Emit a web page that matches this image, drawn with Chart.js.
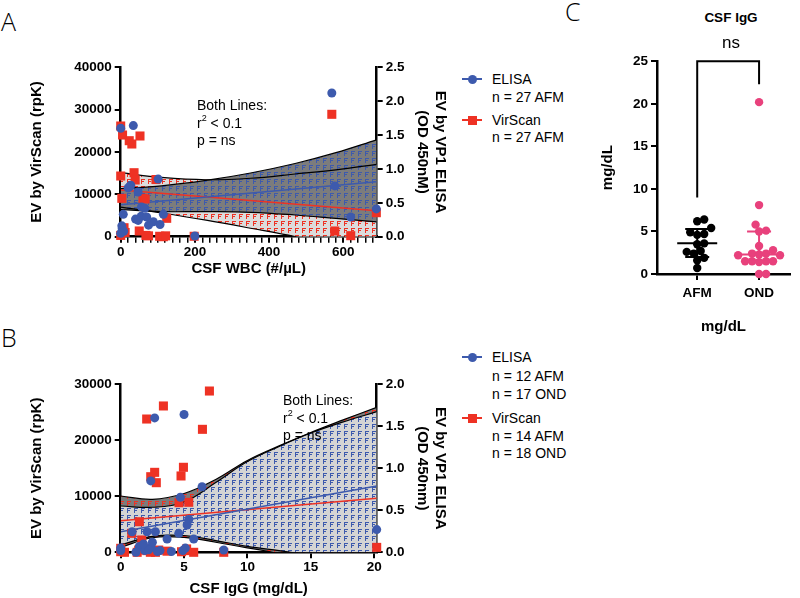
<!DOCTYPE html>
<html>
<head>
<meta charset="utf-8">
<script src="https://cdn.jsdelivr.net/npm/chart.js@4.4.1/dist/chart.umd.min.js"></script>
<style>
body { margin: 0; background: #fff; }
#page { position: relative; width: 800px; height: 598px; overflow: hidden; background: #fff;
        font-family: 'Liberation Sans', Arial, sans-serif; color: #000; }
.box { position: absolute; }
.t { position: absolute; font-size: 14px; line-height: 18px; white-space: nowrap; }
.t sup { font-size: 9px; line-height: 0; position: relative; top: -1px; }
.panel { position: absolute; font-family: 'Open Sans', 'Noto Sans', sans-serif; font-size: 25px; font-weight: 300; }
.ln { position: absolute; width: 20px; height: 2px; }
.dot { position: absolute; width: 9px; height: 9px; border-radius: 50%; }
.sq { position: absolute; width: 9px; height: 9px; }
</style>
</head>
<body>
<div id="page">
  <div class="panel" style="left:1px;top:4px">A</div>
  <div class="panel" style="left:1px;top:320px">B</div>
  <div class="panel" style="left:565px;top:-6px">C</div>

  <div class="box" style="left:0;top:45px;width:460px;height:240px"><canvas id="chartA"></canvas></div>
  <div class="box" style="left:0;top:360px;width:460px;height:238px"><canvas id="chartB"></canvas></div>
  <div class="box" style="left:575px;top:40px;width:222px;height:300px"><canvas id="chartC"></canvas></div>

  <!-- panel A notes + legend -->
  <div class="t" style="left:197px;top:96px">Both Lines:</div>
  <div class="t" style="left:197px;top:114px">r<sup>2</sup> &lt; 0.1</div>
  <div class="t" style="left:197px;top:131px">p = ns</div>

  <div class="ln" style="left:462px;top:78px;background:#3d5aad"></div>
  <div class="dot" style="left:468px;top:74.5px;background:#3d5aad"></div>
  <div class="t" style="left:492px;top:70px">ELISA</div>
  <div class="t" style="left:492px;top:88px">n = 27 AFM</div>
  <div class="ln" style="left:462px;top:119px;background:#ee3224"></div>
  <div class="sq" style="left:468px;top:115.5px;background:#ee3224"></div>
  <div class="t" style="left:492px;top:111px">VirScan</div>
  <div class="t" style="left:492px;top:128px">n = 27 AFM</div>

  <!-- panel B notes + legend -->
  <div class="t" style="left:283px;top:391px">Both Lines:</div>
  <div class="t" style="left:283px;top:409px">r<sup>2</sup> &lt; 0.1</div>
  <div class="t" style="left:283px;top:426px">p = ns</div>

  <div class="ln" style="left:462px;top:356px;background:#3d5aad"></div>
  <div class="dot" style="left:468px;top:352.5px;background:#3d5aad"></div>
  <div class="t" style="left:492px;top:348px">ELISA</div>
  <div class="t" style="left:492px;top:367px">n = 12 AFM</div>
  <div class="t" style="left:492px;top:385px">n = 17 OND</div>
  <div class="ln" style="left:462px;top:417px;background:#ee3224"></div>
  <div class="sq" style="left:468px;top:413.5px;background:#ee3224"></div>
  <div class="t" style="left:492px;top:409px">VirScan</div>
  <div class="t" style="left:492px;top:427px">n = 14 AFM</div>
  <div class="t" style="left:492px;top:444px">n = 18 OND</div>

  <!-- panel C header -->
  <div class="t" style="left:681px;top:9px;width:100px;text-align:center;font-weight:bold;font-size:13.5px">CSF IgG</div>
  <div class="t" style="left:681px;top:34px;width:100px;text-align:center;font-size:17px">ns</div>
</div>

<script>
// ---------- A: CSF WBC vs EV ----------
const wbcElisaA = [0, 34, 27, 24, 20, 101, 47, 7, 56, 65, 55, 70, 40, 47, 88, 106, 3, 4, 8, 115, 200, 569, 577, 620, 689, 75, 0];
const odElisaA = [1.60, 1.64, 0.76, 0.74, 0.72, 0.85, 0.66, 0.33, 0.44, 0.42, 0.30, 0.29, 0.26, 0.24, 0.22, 0.18, 0.16, 0.12, 0.08, 0.33, 0.01, 2.12, 0.75, 0.29, 0.41, 0.17, 0.05];
const wbcVirA = [0, 5, 23, 30, 52, 0, 36, 39, 3, 60, 66, 95, 9, 50, 68, 75, 105, 115, 121, 124, 0, 198, 569, 577, 620, 689, 12];
const rpkVirA = [26140, 24010, 22670, 21890, 23780, 14330, 15110, 13390, 9060, 9060, 8900, 13500, 2120, 1350, 300, 200, 100, 0, 200, 4340, 300, 100, 28900, 1350, 240, 5670, 1000];
// fitted lines and 95% bands
const fitXA = [0, 690];
const elisaFitA = [0.47, 0.81];
const virFitA = [11030, 6140];
const bandXA = [0, 110, 230, 350, 470, 580, 690];
const elisaHiA = [0.71, 0.75, 0.83, 0.94, 1.08, 1.24, 1.43];
const elisaLoA = [0.40, 0.37, 0.37, 0.36, 0.32, 0.27, 0.22];
const virHiA = [15110, 14000, 13450, 13800, 14800, 15800, 17100];
const virLoA = [7000, 5600, 3900, 2000, 0, -2300, -4800];
const wbcTicks = [0, 200, 400, 600];
const rpkTicksA = [0, 10000, 20000, 30000, 40000];
const odTicksA = [0, 0.5, 1, 1.5, 2, 2.5];

// ---------- B: CSF IgG vs EV ----------
const iggElisaB = [2.68, 5.0, 2.37, 6.42, 4.71, 5.37, 5.24, 2.08, 2.74, 4.58, 3.66, 5.76, 2.4, 5.1, 8.13, 20.2, 1.47, 0, 1.9, 0, 0.9, 1.2, 2.2, 2.9, 3.1, 4.0, 4.9, 1.8, 2.5];
const odElisaB = [1.60, 1.64, 0.85, 0.78, 0.655, 0.39, 0.325, 0.245, 0.245, 0.226, 0.158, 0.158, 0.06, 0.05, 0.027, 0.27, 0.07, 0.02, 0.02, 0.05, 0.245, 0.0, 0.03, 0.01, 0.02, 0.01, 0.02, 0.10, 0.12];
const iggVirB = [2.05, 3.37, 7.0, 6.45, 2.37, 2.68, 2.81, 4.95, 4.76, 4.6, 5.37, 1.47, 0.87, 1.66, 0, 0, 1.42, 2.08, 2.34, 2.74, 3.66, 5.1, 5.76, 8.13, 20.2, 1.3, 2.2, 2.6, 3.0, 4.8, 5.2, 0.3];
const rpkVirB = [23800, 26130, 28800, 21960, 13500, 14280, 12430, 15180, 13630, 8860, 8930, 5460, 3390, 2200, 710, 110, 410, 300, 0, 0, 200, 300, 0, 0, 880, 0, 600, 200, 400, 100, 600, 0];
const fitXB = [0, 20.2];
const elisaFitB = [0.245, 0.79];
const virFitB = [5640, 9640];
const bandXB = [0, 2.5, 5, 7.5, 10, 12.5, 15, 17.5, 20.2];
const elisaHiB = [0.551, 0.536, 0.60, 0.83, 1.08, 1.26, 1.42, 1.55, 1.674];
const elisaLoB = [0.087, 0.19, 0.20, 0.14, 0.07, 0.02, -0.03, -0.065, -0.094];
const virHiB = [10050, 9460, 10500, 13000, 16400, 19000, 21400, 23600, 25890];
const virLoB = [900, 2600, 2650, 1800, 800, -300, -2500, -4400, -6600];
const iggTicks = [0, 5, 10, 15, 20];
const rpkTicksB = [0, 10000, 20000, 30000];
const odTicksB = [0, 0.5, 1, 1.5, 2];

// ---------- C: CSF IgG by group ----------
const groups = ['AFM', 'OND'];
const afmIgG = [6.2, 6.4, 5.4, 4.6, 4.9, 4.7, 3.6, 3.5, 2.6, 2.7, 2.4, 1.6, 1.9, 0.7];
const ondIgG = [20.2, 8.1, 5.8, 5.0, 5.1, 2.8, 3.3, 2.2, 2.4, 2.4, 2.2, 2.3, 1.5, 1.5, 1.5, 1.5, 1.4, 0.0, 0.0];
const medianC = [3.6, 2.3];
const lowC = [2.0, 1.45];
const highC = [5.3, 5.0];
const bracketC = { top: 25, legs: [9, 22.3] };
const mgTicks = [0, 5, 10, 15, 20, 25];

const BLUE = '#3d5aad', RED = '#ee3224', PINK = '#e8417c';
const FONT = "'Liberation Sans', Arial, sans-serif";
const tickFont = { family: FONT, size: 13.5, weight: 'bold' };
const titleFont = { family: FONT, size: 15, weight: 'bold' };

function pts(xs, ys) {
  return xs.map((x, i) => ({ x: x, y: ys[i] }));
}

function hatch(bg, fg) {
  const c = document.createElement('canvas');
  c.width = 7; c.height = 7;
  const g = c.getContext('2d');
  g.fillStyle = bg; g.fillRect(0, 0, 7, 7);
  g.fillStyle = fg;
  g.fillRect(1, 1, 4, 1);
  g.fillRect(1, 1, 1, 5);
  g.fillRect(1, 3, 3, 1);
  return g.createPattern(c, 'repeat');
}

function fixed(vals) {
  return scale => { scale.ticks = vals.map(v => ({ value: v })); };
}

function axisStyle(extra) {
  return Object.assign({
    grid: { drawOnChartArea: false, color: '#000', lineWidth: 2, tickLength: 6 },
    border: { color: '#000', width: 2.5 },
  }, extra);
}

function bandSets(xs, lo, hi, axis, fillStyle, order) {
  const edge = { type: 'line', yAxisID: axis, borderColor: '#000', borderWidth: 1.2, pointRadius: 0, tension: 0.4, order: order };
  return [
    Object.assign({}, edge, { data: pts(xs, lo), fill: false }),
    Object.assign({}, edge, { data: pts(xs, hi), fill: '-1', backgroundColor: fillStyle }),
  ];
}

function regChart(id, d) {
  return new Chart(document.getElementById(id), {
    type: 'scatter',
    data: {
      datasets: [
        { data: pts(d.xE, d.yE), yAxisID: 'y1', pointStyle: 'circle', pointRadius: 4.5, pointBorderWidth: 0, backgroundColor: BLUE, order: 0, clip: false },
        { data: pts(d.xV, d.yV), yAxisID: 'y', pointStyle: 'rect', pointRadius: 6.4, pointBorderWidth: 0, backgroundColor: RED, order: 0, clip: false },
        { type: 'line', data: pts(d.fitX, d.fitE), yAxisID: 'y1', borderColor: BLUE, borderWidth: 1.5, pointRadius: 0, order: 1 },
        { type: 'line', data: pts(d.fitX, d.fitV), yAxisID: 'y', borderColor: RED, borderWidth: 1.5, pointRadius: 0, order: 1 },
        ...bandSets(d.bandX, d.eLo, d.eHi, 'y1', d.eFill, 2),
        ...bandSets(d.bandX, d.vLo, d.vHi, 'y', d.vFill, 3),
      ]
    },
    options: {
      responsive: true, maintainAspectRatio: false, animation: false,
      layout: { padding: { top: d.padTop, right: 11, left: 0, bottom: 0 } },
      plugins: { legend: { display: false }, tooltip: { enabled: false }, filler: { drawTime: 'beforeDatasetsDraw' } },
      scales: {
        x: axisStyle({
          type: 'linear', min: 0, max: d.xMax,
          afterBuildTicks: fixed(d.xMinor),
          afterFit: s => { s.height = d.xH; },
          grid: { drawOnChartArea: false, color: '#000', tickLength: 6,
                  lineWidth: c => (c.tick && d.xMajor.includes(c.tick.value) ? 2 : 1.5) },
          ticks: { autoSkip: false, maxRotation: 0, padding: 1, color: '#000', font: tickFont,
                   callback: v => (d.xMajor.includes(v) ? String(v) : '') },
          title: { display: true, text: d.xTitle, color: '#000', font: titleFont, padding: { top: 0, bottom: d.xTitlePad } },
        }),
        y: axisStyle({
          type: 'linear', position: 'left', min: 0, max: d.yTicks[d.yTicks.length - 1],
          afterBuildTicks: fixed(d.yTicks),
          afterFit: s => { s.width = 120.7; },
          ticks: { color: '#000', font: tickFont, padding: 3, callback: v => String(v) },
          title: { display: true, text: 'EV by VirScan (rpK)', color: '#000', font: titleFont, padding: { top: 28, bottom: 0 } },
        }),
        y1: axisStyle({
          type: 'linear', position: 'right', min: 0, max: d.y1Ticks[d.y1Ticks.length - 1],
          afterBuildTicks: fixed(d.y1Ticks),
          afterFit: s => { s.width = 72.3; },
          ticks: { color: '#000', font: tickFont, padding: 3, callback: v => v.toFixed(1) },
          title: { display: true, text: d.y1Title, color: '#000', font: titleFont, padding: { top: 0, bottom: 0 } },
        }),
      }
    }
  });
}

const minorA = [];
for (let v = 0; v <= 680; v += 20) minorA.push(v);

regChart('chartA', {
  xE: wbcElisaA, yE: odElisaA, xV: wbcVirA, yV: rpkVirA,
  fitX: fitXA, fitE: elisaFitA, fitV: virFitA,
  bandX: bandXA, eLo: elisaLoA, eHi: elisaHiA, vLo: virLoA, vHi: virHiA,
  eFill: hatch('#7c7c7c', BLUE), vFill: hatch('#dcdcdc', RED),
  padTop: 22.3, xMax: 690, xMinor: minorA, xMajor: wbcTicks, xH: 48.3, xTitlePad: 7,
  xTitle: 'CSF WBC (#/µL)', yTicks: rpkTicksA, y1Ticks: odTicksA,
  y1Title: ['EV by VP1 ELISA', '(OD 450nM)'],
});

regChart('chartB', {
  xE: iggElisaB, yE: odElisaB, xV: iggVirB, yV: rpkVirB,
  fitX: fitXB, fitE: elisaFitB, fitV: virFitB,
  bandX: bandXB, eLo: elisaLoB, eHi: elisaHiB, vLo: virLoB, vHi: virHiB,
  eFill: hatch('#d4d4d4', BLUE), vFill: hatch('#7c7c7c', RED),
  padTop: 24.3, xMax: 20.2, xMinor: iggTicks, xMajor: iggTicks, xH: 45.7, xTitlePad: 0,
  xTitle: 'CSF IgG (mg/dL)', yTicks: rpkTicksB, y1Ticks: odTicksB,
  y1Title: ['EV by VP1 ELISA', '(OD 450nm)'],
});

// simple beeswarm so dots in a column do not pile up
function swarm(vals, centre) {
  const placed = [];
  const out = [];
  const idx = vals.map((v, i) => i).sort((a, b) => vals[a] - vals[b]);
  for (const i of idx) {
    const yp = vals[i] * 8.56;
    let dx = 0;
    for (let k = 0; k < 40; k++) {
      dx = (k % 2 ? 1 : -1) * Math.ceil(k / 2) * 3.5;
      if (placed.every(p => Math.hypot(p[0] - dx, p[1] - yp) >= 7)) break;
    }
    placed.push([dx, yp]);
    out[i] = { x: centre + dx / 62, y: vals[i] };
  }
  return out;
}

const summaryBars = {
  id: 'summaryBars',
  afterDatasetsDraw(chart) {
    const ctx = chart.ctx;
    const xs = chart.scales.x, ys = chart.scales.y;
    const colors = ['#000', PINK];
    ctx.save();
    ctx.lineWidth = 2;
    groups.forEach((g, i) => {
      const cx = xs.getPixelForValue(i + 1);
      const yl = ys.getPixelForValue(lowC[i]), yh = ys.getPixelForValue(highC[i]), ym = ys.getPixelForValue(medianC[i]);
      ctx.strokeStyle = colors[i];
      ctx.beginPath();
      ctx.moveTo(cx, yl); ctx.lineTo(cx, yh);
      ctx.moveTo(cx - 20, ym); ctx.lineTo(cx + 20, ym);
      ctx.moveTo(cx - 12, yl); ctx.lineTo(cx + 12, yl);
      ctx.moveTo(cx - 12, yh); ctx.lineTo(cx + 12, yh);
      ctx.stroke();
    });
    // significance bracket
    const x1 = xs.getPixelForValue(1), x2 = xs.getPixelForValue(2), yt = ys.getPixelForValue(bracketC.top);
    ctx.strokeStyle = '#000';
    ctx.beginPath();
    ctx.moveTo(x1, ys.getPixelForValue(bracketC.legs[0]));
    ctx.lineTo(x1, yt); ctx.lineTo(x2, yt);
    ctx.lineTo(x2, ys.getPixelForValue(bracketC.legs[1]));
    ctx.stroke();
    ctx.restore();
  }
};

new Chart(document.getElementById('chartC'), {
  type: 'scatter',
  data: {
    datasets: [
      { data: swarm(afmIgG, 1), pointRadius: 4.2, pointBorderWidth: 0, backgroundColor: '#000', clip: false },
      { data: swarm(ondIgG, 2), pointRadius: 4.2, pointBorderWidth: 0, backgroundColor: PINK, clip: false },
    ]
  },
  options: {
    responsive: true, maintainAspectRatio: false, animation: false,
    layout: { padding: { top: 21.3, right: 7, left: 0, bottom: 0 } },
    plugins: { legend: { display: false }, tooltip: { enabled: false } },
    scales: {
      x: axisStyle({
        type: 'linear', min: 0.35, max: 2.5,
        afterBuildTicks: fixed([1, 2]),
        afterFit: s => { s.height = 66; },
        ticks: { color: '#000', font: tickFont, padding: 5, callback: v => groups[v - 1] },
        title: { display: true, text: 'mg/dL', color: '#000', font: titleFont, padding: { top: 0, bottom: 4 } },
      }),
      y: axisStyle({
        type: 'linear', min: 0, max: 25,
        afterBuildTicks: fixed(mgTicks),
        afterFit: s => { s.width = 82; },
        ticks: { color: '#000', font: tickFont, padding: 3 },
        title: { display: true, text: 'mg/dL', color: '#000', font: titleFont, padding: { top: 24, bottom: 0 } },
      }),
    }
  },
  plugins: [summaryBars]
});
</script>
</body>
</html>
